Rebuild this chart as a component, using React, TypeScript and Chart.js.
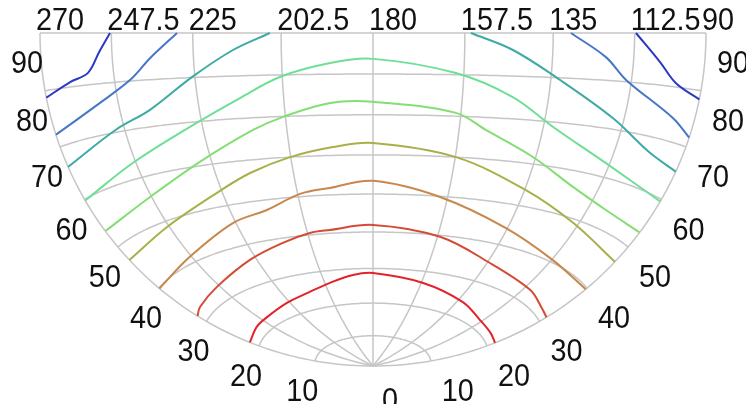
import React, { useEffect, useRef } from "react";
import { Chart, registerables } from "chart.js";

Chart.register(...registerables);

// Axis ticks
const azimuthTicks = [270, 247.5, 225, 202.5, 180, 157.5, 135, 112.5, 90];
const azimuthLabels = ["270", "247.5", "225", "202.5", "180", "157.5", "135", "112.5", "90"];
const zenithTicks = [0, 10, 20, 30, 40, 50, 60, 70, 80, 90];

// Contour lines, as [azimuth (deg), zenith angle (deg)]
const red1 = [[270, 21.7], [254.8, 22.3], [243.6, 22.6], [226.6, 23.7], [213.3, 24.8], [200.1, 26.6], [188.8, 28.3], [180, 28.7], [156.6, 26.8], [132.0, 24.2], [114.0, 22.2], [99.8, 21.7], [90, 21.5]];
const red2 = [[270, 31.8], [264.3, 32.4], [248.8, 33.4], [227.6, 36.3], [212.3, 38.8], [201.7, 40.5], [194.6, 40.9], [180, 41.9], [156.6, 39.6], [133.9, 35.2], [109.6, 33.0], [97.8, 31.8], [90, 31.4]];
const orange = [[270, 39.9], [248.2, 41.4], [226.0, 45.7], [213.3, 47.5], [201.8, 50.7], [192.6, 51.8], [180, 53.4], [159.8, 49.8], [135.5, 44.2], [112.0, 40.5], [90, 39.7]];
const olive = [[270, 47.0], [248.3, 48.8], [226.7, 53.3], [214.9, 56.9], [202.7, 60.0], [190.7, 62.1], [180, 63.0], [157.3, 60.0], [134.6, 53.8], [114.5, 49.2], [90, 46.6]];
const greenLow = [[270, 53.5], [248.0, 55.7], [228.4, 60.9], [211.5, 67.1], [203.1, 69.9], [190.8, 73.0], [180, 73.2], [158.8, 70.8], [150.4, 67.0], [135.8, 61.6], [120.7, 56.5], [106.4, 53.9], [90, 53.2]];
const greenHigh = [[270, 59.8], [248.4, 63.3], [228.5, 69.0], [213.75, 74.8], [203.1, 79.5], [190.5, 82.7], [180, 83.7], [159.5, 80.4], [144.5, 75.1], [132.3, 68.9], [113.7, 62.9], [90, 59.6]];
const tealWest = [[270, 66.3], [250.2, 70.5], [238.7, 73.6], [225.8, 80.1], [214.65, 86.05], [205.3, 90]];
const tealEast = [[156.0, 90], [145.35, 86.05], [132.5, 79.5], [115.9, 72.3], [101.2, 67.0], [90, 65.4]];
const blueWest = [[270, 72.2], [254.1, 75.9], [243.0, 80.2], [236.75, 84.6], [229.2, 90]];
const blueEast = [[130.3, 90], [120.5, 84.9], [114.1, 80.4], [97.4, 74.3], [90, 71.7]];
const navyWest = [[270, 78.8], [261.2, 80.9], [255.2, 82.3], [251.3, 86.2], [247.9, 90]];
const navyEast = [[112.1, 90], [104.5, 84.4], [98.7, 80.7], [90, 78.5]];

const contourSeries = [red1, red2, orange, olive, greenLow, greenHigh, tealWest, tealEast, blueWest, blueEast, navyWest, navyEast];
const contourColors = ["#e3232a", "#d44a34", "#c8874c", "#a9b04a", "#84de74", "#6fdf96", "#3eaaa6", "#3eaaa6", "#4676c6", "#4676c6", "#2a38c4", "#2a38c4"];

// Lambert azimuthal equal-area view centred on the horizon at azimuth 180, zenith downward
function project(az: number, zen: number) {
  const t = (zen * Math.PI) / 180;
  const p = ((az - 180) * Math.PI) / 180;
  const c = Math.sin(t) * Math.cos(p);
  const r = -Math.sin(t) * Math.sin(p);
  const d = Math.cos(t);
  const k = 1 / Math.sqrt(1 + c);
  return { x: r * k, y: d * k };
}

const gridPlugin = {
  id: "skyGrid",
  beforeDatasetsDraw(chart: any) {
    const { ctx, scales } = chart;
    const xs = scales.x, ys = scales.y;
    const px = (az: number, zen: number) => {
      const p = project(az, zen);
      return [xs.getPixelForValue(p.x), ys.getPixelForValue(p.y)];
    };
    ctx.save();
    ctx.strokeStyle = "#c6c6c6";
    ctx.lineWidth = 1.5;
    for (const az of azimuthTicks) {
      ctx.beginPath();
      for (let z = 0; z <= 90; z += 1) {
        const [a, b] = px(az, z);
        if (z === 0) ctx.moveTo(a, b); else ctx.lineTo(a, b);
      }
      ctx.stroke();
    }
    for (const zen of zenithTicks) {
      if (zen === 0) continue;
      ctx.beginPath();
      for (let az = 90; az <= 270; az += 1) {
        const [a, b] = px(az, zen);
        if (az === 90) ctx.moveTo(a, b); else ctx.lineTo(a, b);
      }
      ctx.stroke();
    }
    ctx.restore();
  },
};

const labelPlugin = {
  id: "skyLabels",
  afterDraw(chart: any) {
    const { ctx, scales } = chart;
    const xs = scales.x, ys = scales.y;
    const px = (az: number, zen: number) => {
      const p = project(az, zen);
      return [xs.getPixelForValue(p.x), ys.getPixelForValue(p.y)];
    };
    const text = (s: string, x: number, y: number, align: CanvasTextAlign) => {
      ctx.save();
      ctx.translate(x, y);
      ctx.scale(0.9, 1);
      ctx.textAlign = align;
      ctx.textBaseline = "alphabetic";
      ctx.fillText(s, 0, 0);
      ctx.restore();
    };
    ctx.save();
    ctx.fillStyle = "#111";
    ctx.font = '32px "Liberation Sans", Arial, sans-serif';
    azimuthTicks.forEach((az, i) => {
      const [a] = px(az, 90);
      text(azimuthLabels[i], a - 4, 30, "left");
    });
    zenithTicks.forEach((zen) => {
      const [la, lb] = px(270, zen);
      const [ra, rb] = px(90, zen);
      if (zen === 0) {
        text(String(zen), la + 9, lb + 44, "left");
        return;
      }
      text(String(zen), la + 3, lb + 40, "right");
      text(String(zen), ra + 11, rb + 40, "left");
    });
    ctx.restore();
  },
};

export default function App() {
  const ref = useRef<HTMLCanvasElement>(null);
  useEffect(() => {
    document.body.style.margin = "0";
    const datasets = contourSeries.map((series, i) => ({
      data: series.map(([az, zen]) => project(az, zen)),
      showLine: true,
      borderColor: contourColors[i],
      backgroundColor: contourColors[i],
      borderWidth: 2,
      pointRadius: 0,
      tension: 0.35,
      fill: false,
      clip: false as any,
    }));
    const chart = new Chart(ref.current as HTMLCanvasElement, {
      type: "scatter",
      data: { datasets },
      options: {
        animation: false,
        responsive: false,
        maintainAspectRatio: false,
        layout: { padding: { left: 40, right: 40, top: 33, bottom: 38 } },
        scales: {
          x: { type: "linear", min: -1, max: 1, display: false },
          y: { type: "linear", min: 0, max: 1, reverse: true, display: false },
        },
        plugins: { legend: { display: false }, tooltip: { enabled: false } },
      },
      plugins: [gridPlugin, labelPlugin],
    } as any);
    return () => chart.destroy();
  }, []);
  return <canvas ref={ref} width={746} height={404} style={{ display: "block" }} />;
}
